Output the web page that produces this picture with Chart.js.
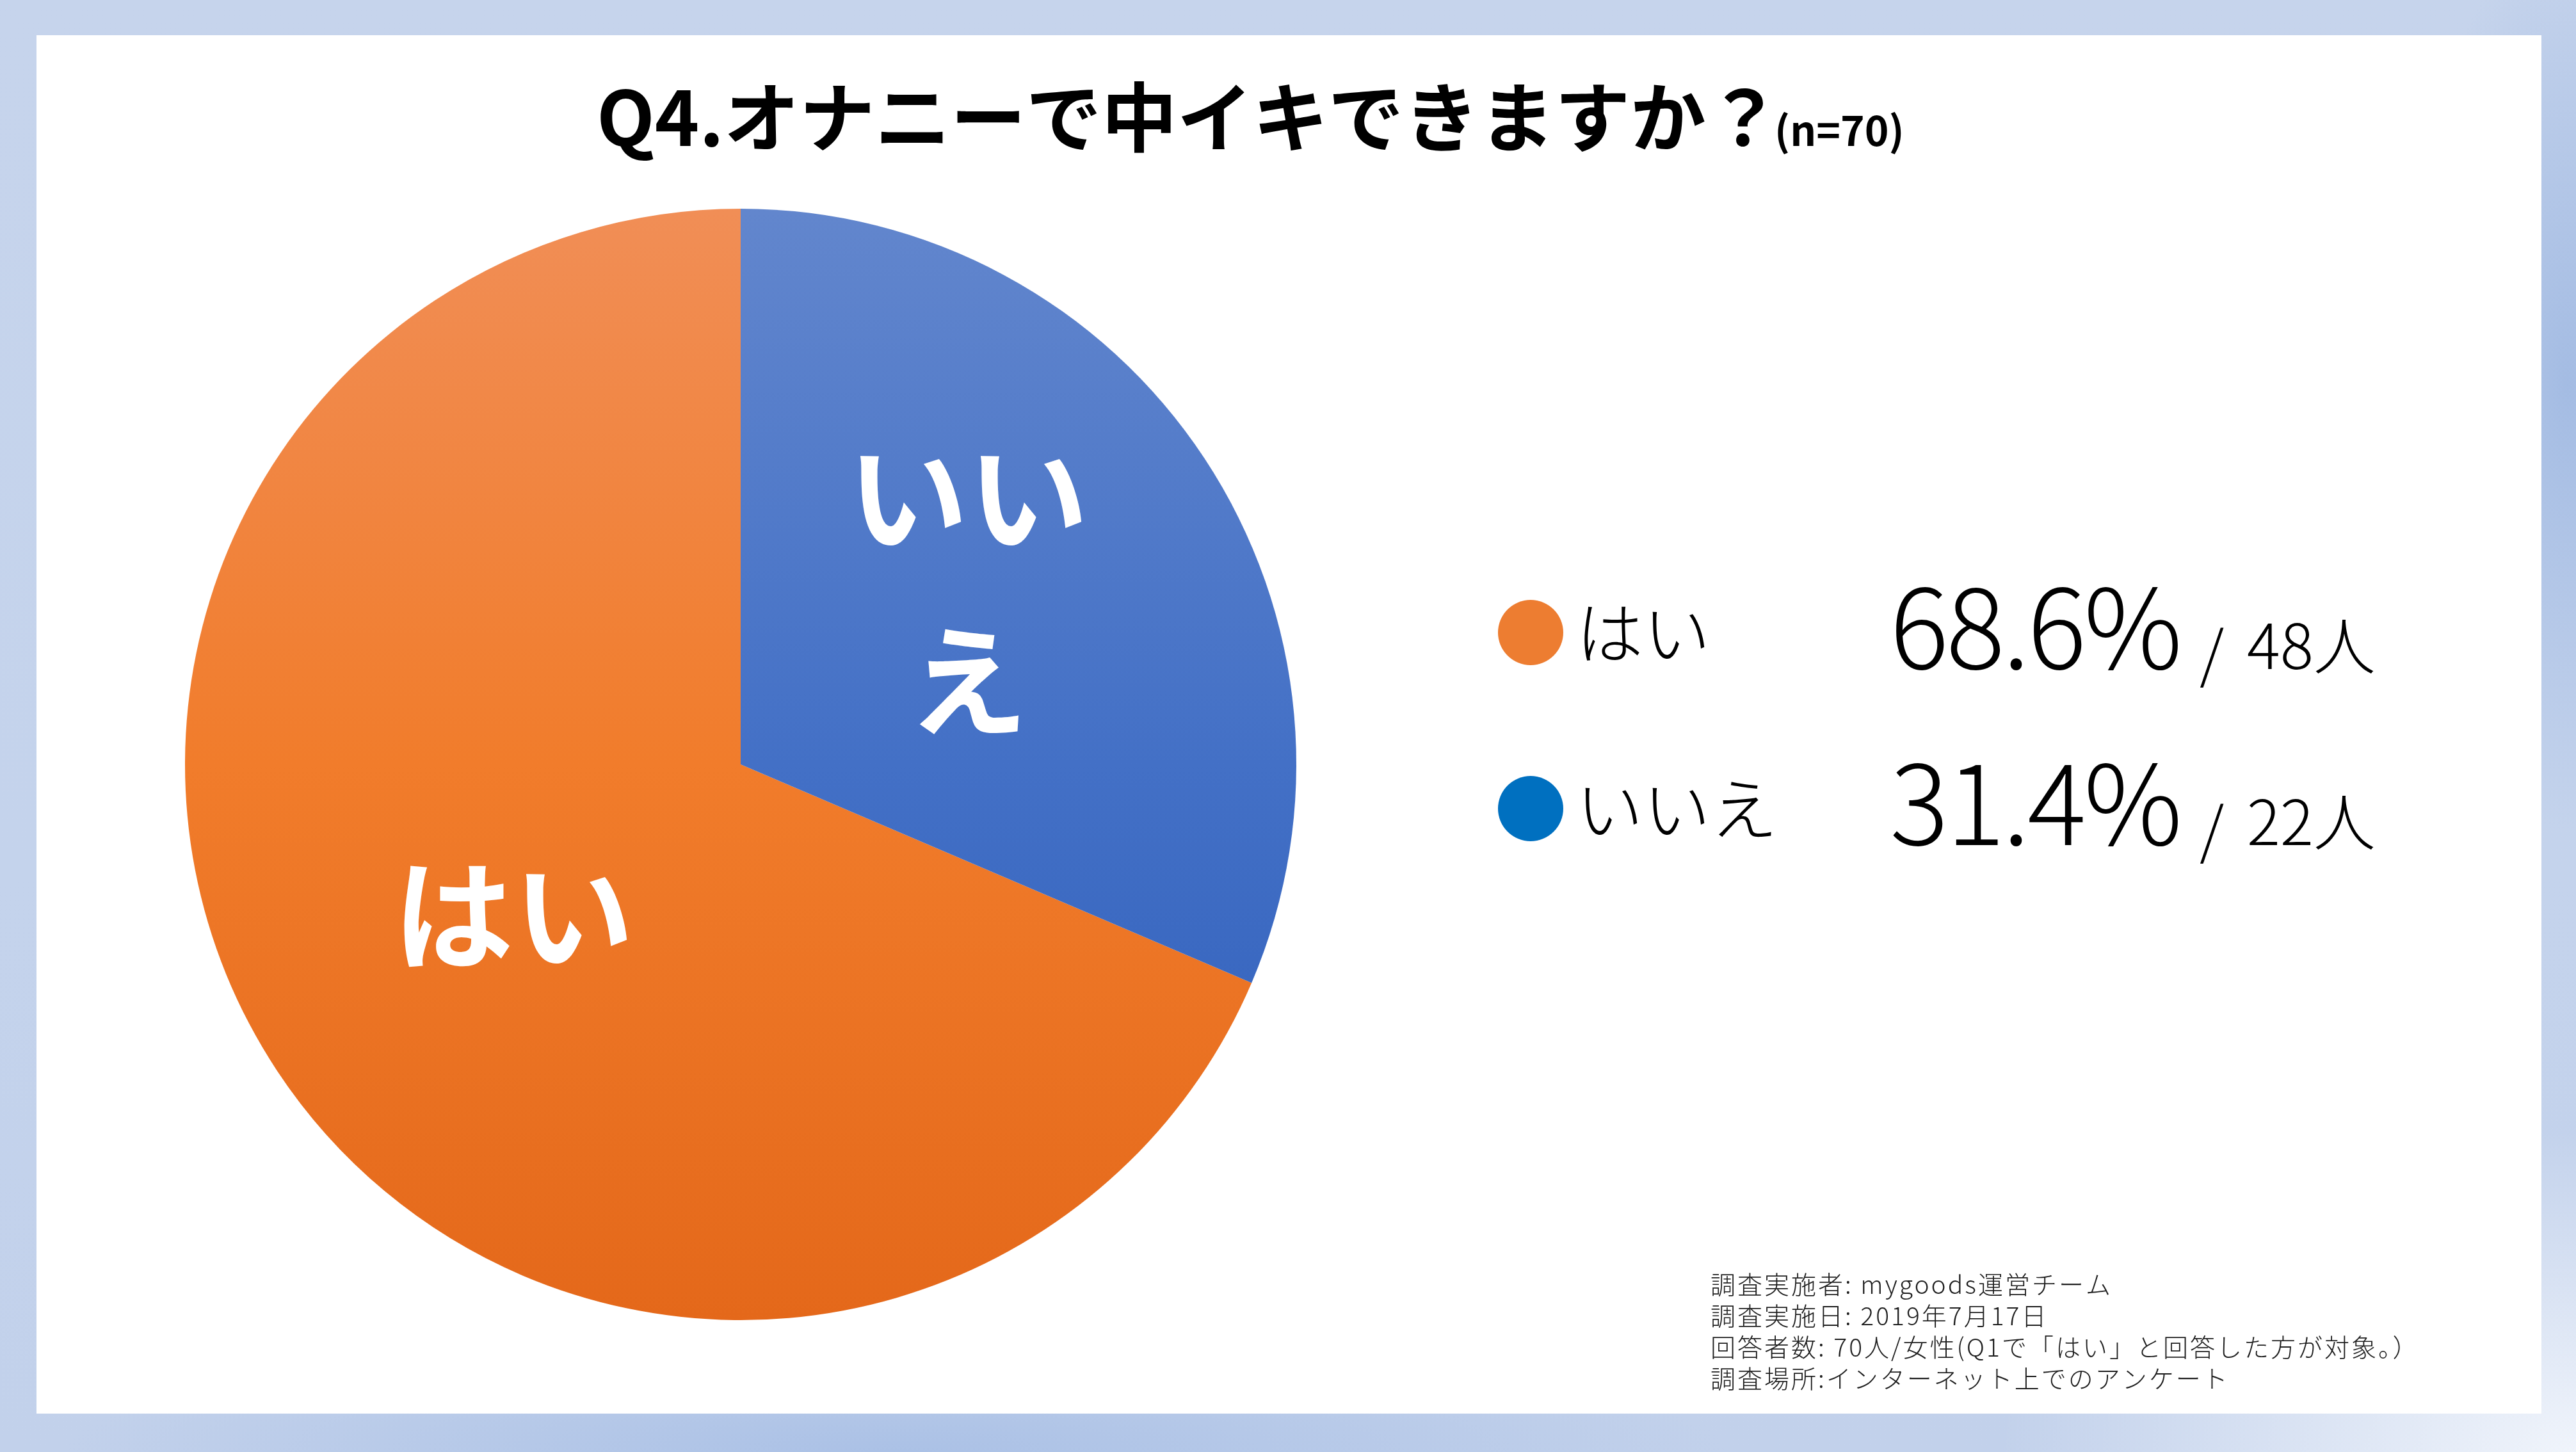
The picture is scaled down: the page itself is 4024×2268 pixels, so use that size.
<!DOCTYPE html>
<html lang="ja">
<head>
<meta charset="utf-8">
<title>Q4 pie</title>
<script src="https://cdn.jsdelivr.net/npm/chart.js@4/dist/chart.umd.min.js"></script>
<style>
    html, body {
        margin: 0;
        padding: 0;
        width: 4024px;
        height: 2268px;
        overflow: hidden;
    }
    body {
        position: relative;
        background:
            radial-gradient(ellipse 260px 700px at 4010px 600px, rgba(160, 185, 226, 0.9), rgba(160, 185, 226, 0) 100%),
            radial-gradient(ellipse 1300px 200px at 1400px 2268px, rgba(168, 191, 229, 0.9), rgba(168, 191, 229, 0) 100%),
            radial-gradient(ellipse 900px 500px at 4024px 2268px, rgba(240, 244, 251, 1), rgba(240, 244, 251, 0) 100%),
            linear-gradient(180deg, #c6d4ec 0%, #c4d3ec 60%, #c2d1eb 100%);
    }
    #panel {
        position: absolute;
        left: 57px;
        top: 55px;
        width: 3913px;
        height: 2153px;
        background: #ffffff;
    }
    #wrap {
        position: absolute;
        left: 0;
        top: 0;
        width: 4024px;
        height: 2268px;
    }
</style>
</head>
<body>
<div id="panel"></div>
<div id="wrap"><canvas id="pieChart"></canvas></div>
<script>
// data
const categories = ["はい", "いいえ"];
const counts = [48, 22];
const sampleSize = 70;
const sliceLabels = [["はい"], ["いい", "え"]];
const dotColors = ["#ed7d31", "#0070c0"];

const titleText = "Q4.オナニーで中イキできますか？";
const titleNote = "(n=70)";
const footnotes = [
    "調査実施者: mygoods運営チーム",
    "調査実施日: 2019年7月17日",
    "回答者数: 70人/女性(Q1で「はい」と回答した方が対象。）",
    "調査場所:インターネット上でのアンケート",
];

const JP = '"Noto Sans CJK JP", "Noto Sans", sans-serif';

function pct(v) {
    return (v / sampleSize * 100).toFixed(1) + "%";
}

// vertical gradients for the two slices
function sliceFill(context) {
    const chart = context.chart;
    const area = chart.chartArea;
    if (!area) return null;
    const g = chart.ctx.createLinearGradient(0, area.top, 0, area.bottom);
    if (context.dataIndex === 0) {
        g.addColorStop(0, "#f18e56");
        g.addColorStop(0.5, "#f17c2b");
        g.addColorStop(1, "#e4681a");
    } else {
        g.addColorStop(0, "#6286cd");
        g.addColorStop(0.5, "#4370c6");
        g.addColorStop(1, "#2c5cb9");
    }
    return g;
}

// labels drawn inside the slices
const sliceLabelPlugin = {
    id: "sliceLabels",
    afterDatasetsDraw(chart) {
        const ctx = chart.ctx;
        const meta = chart.getDatasetMeta(0);
        ctx.save();
        ctx.fillStyle = "#ffffff";
        ctx.font = "bold 188px " + JP;
        ctx.textAlign = "center";
        ctx.textBaseline = "middle";
        meta.data.forEach((arc, i) => {
            const p = arc.getProps(["x", "y", "startAngle", "endAngle", "outerRadius"], true);
            const mid = (p.startAngle + p.endAngle) / 2;
            const lines = sliceLabels[i];
            const lh = 288;
            const cx = p.x + Math.cos(mid) * p.outerRadius * 0.49;
            let cy = p.y + Math.sin(mid) * p.outerRadius * 0.49;
            if (lines.length > 1) cy -= 40;
            const y0 = cy - (lines.length - 1) * lh / 2;
            lines.forEach((t, k) => ctx.fillText(t, cx, y0 + k * lh));
        });
        ctx.restore();
    },
};

// title, legend rows and footnote
const textPlugin = {
    id: "pageText",
    afterDraw(chart) {
        const ctx = chart.ctx;
        ctx.save();
        ctx.fillStyle = "#000000";
        ctx.textAlign = "left";
        ctx.textBaseline = "alphabetic";

        ctx.font = "bold 118px " + JP;
        ctx.fillText(titleText, 932, 228);
        ctx.font = "bold 64px " + JP;
        ctx.fillText(titleNote, 2772, 228);

        const rows = [1045, 1320];
        categories.forEach((name, i) => {
            const base = rows[i];
            ctx.fillStyle = dotColors[i];
            ctx.beginPath();
            ctx.arc(2391, base - 57, 51, 0, Math.PI * 2);
            ctx.fill();

            ctx.fillStyle = "#000000";
            ctx.font = "300 105px " + JP;
            ctx.fillText(name, 2462, base - 17);

            ctx.font = "300 172px " + JP;
            ctx.letterSpacing = "-4px";
            ctx.fillText(pct(counts[i]), 2952, base);
            ctx.letterSpacing = "0px";

            ctx.font = "300 97px " + JP;
            ctx.fillText("/", 3436, base + 12);
            ctx.fillText(counts[i] + "人", 3510, base);
        });

        ctx.fillStyle = "#1e1e1e";
        ctx.font = "300 39px " + JP;
        ctx.letterSpacing = "3px";
        footnotes.forEach((t, k) => ctx.fillText(t, 2672, 2021 + k * 49));
        ctx.restore();
    },
};

let chartInstances = {};

function initializeChart() {
    const pieCtx = document.getElementById("pieChart").getContext("2d");
    if (chartInstances.pie) {
        chartInstances.pie.destroy();
    }
    chartInstances.pie = new Chart(pieCtx, {
        type: "pie",
        data: {
            labels: categories,
            datasets: [
                {
                    data: counts,
                    backgroundColor: sliceFill,
                    borderWidth: 0,
                },
            ],
        },
        options: {
            responsive: true,
            maintainAspectRatio: false,
            animation: false,
            rotation: counts[1] / sampleSize * 360,
            layout: {
                padding: { left: 289, right: 1999, top: 326, bottom: 206 },
            },
            plugins: {
                legend: { display: false },
                tooltip: { enabled: false },
            },
        },
        plugins: [sliceLabelPlugin, textPlugin],
    });
}

document.fonts.load("bold 100px " + JP).then(initializeChart, initializeChart);
</script>
</body>
</html>
